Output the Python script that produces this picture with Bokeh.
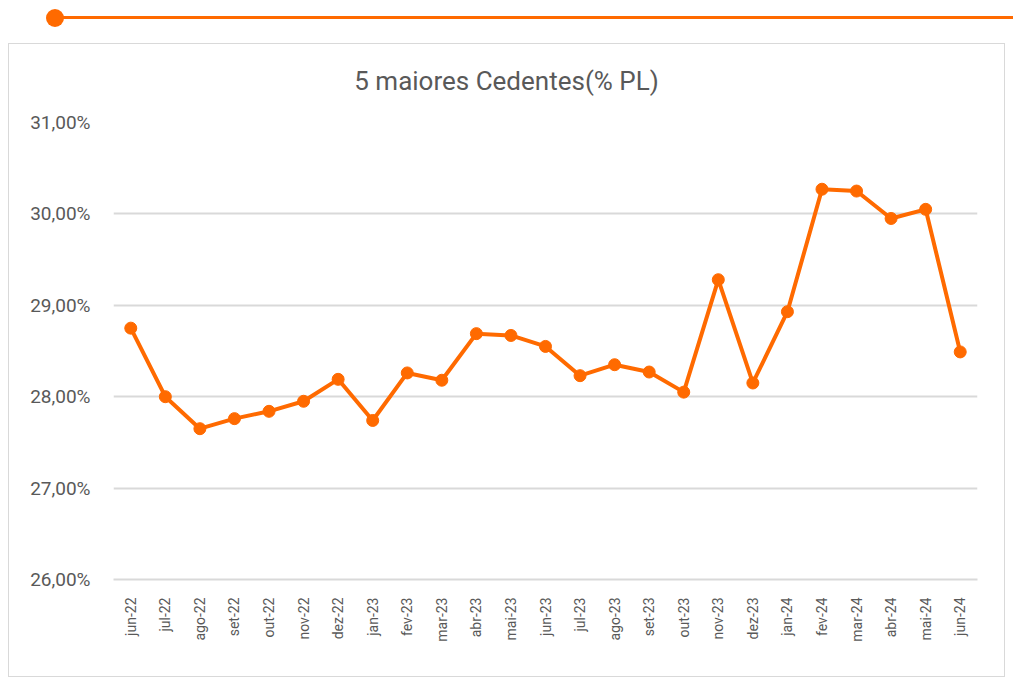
import math
from bokeh.plotting import figure
from bokeh.models import Div, FixedTicker, Range1d
from bokeh.layouts import column
from bokeh.embed import file_html
from bokeh.resources import INLINE

months = ["jun-22", "jul-22", "ago-22", "set-22", "out-22", "nov-22", "dez-22",
          "jan-23", "fev-23", "mar-23", "abr-23", "mai-23", "jun-23", "jul-23",
          "ago-23", "set-23", "out-23", "nov-23", "dez-23", "jan-24", "fev-24",
          "mar-24", "abr-24", "mai-24", "jun-24"]
cedentes_pct = [28.75, 28.00, 27.65, 27.76, 27.84, 27.95, 28.19, 27.74, 28.26,
                28.18, 28.69, 28.67, 28.55, 28.23, 28.35, 28.27, 28.05, 29.28,
                28.15, 28.93, 30.27, 30.25, 29.95, 30.05, 28.49]
y_ticks = [26, 27, 28, 29, 30, 31]
y_tick_labels = ["26,00%", "27,00%", "28,00%", "29,00%", "30,00%", "31,00%"]
chart_title = "5 maiores Cedentes(% PL)"

ORANGE = "#FF6A00"
GRAY_TXT = "#595959"
GRID = "#d9d9d9"
FONT = "Roboto"

deco = Div(
    width=1005, height=35,
    text=(
        '<div style="position:relative;width:1005px;height:35px;">'
        '<div style="position:absolute;left:55px;top:16px;width:958px;height:3px;background:%s;"></div>'
        '<div style="position:absolute;left:46px;top:9px;width:18px;height:18px;border-radius:50%%;background:%s;"></div>'
        '</div>' % (ORANGE, ORANGE)
    ),
    styles={"margin": "0", "padding": "0"},
)
deco.margin = 0

title_div = Div(
    width=995, height=64,
    text=(
        '<div style="width:995px;text-align:center;padding-top:22px;'
        'font-family:Roboto;font-size:26px;line-height:30px;color:%s;">%s</div>'
        % (GRAY_TXT, chart_title)
    ),
    styles={"margin": "0", "padding": "0"},
)
title_div.margin = 0

p = figure(
    x_range=months, y_range=Range1d(26, 31),
    width=995, height=568,
    output_backend="svg", toolbar_location=None,
    min_border_left=104, min_border_right=27, min_border_top=14, min_border_bottom=97,
)
p.margin = 0
p.outline_line_color = None
p.background_fill_color = "white"
p.border_fill_color = "white"

p.line(months, cedentes_pct, line_color=ORANGE, line_width=4)
p.scatter(months, cedentes_pct, size=12, fill_color=ORANGE, line_color=ORANGE)

p.yaxis.ticker = FixedTicker(ticks=y_ticks)
p.yaxis.major_label_overrides = {t: l for t, l in zip(y_ticks, y_tick_labels)}
p.yaxis.axis_line_color = None
p.yaxis.major_tick_line_color = None
p.yaxis.minor_tick_line_color = None
p.yaxis.major_label_standoff = 17
p.yaxis.major_label_text_font = FONT
p.yaxis.major_label_text_font_size = "19px"
p.yaxis.major_label_text_color = GRAY_TXT

p.xaxis.axis_line_color = GRID
p.xaxis.axis_line_width = 2
p.xaxis.major_tick_line_color = None
p.xaxis.minor_tick_line_color = None
p.xaxis.major_label_orientation = math.pi / 2
p.xaxis.major_label_standoff = 12
p.xaxis.major_label_text_font = FONT
p.xaxis.major_label_text_font_size = "14px"
p.xaxis.major_label_text_color = GRAY_TXT

p.xgrid.grid_line_color = None
p.ygrid.grid_line_color = GRID
p.ygrid.grid_line_width = 2
p.ygrid.ticker = FixedTicker(ticks=y_ticks)

box = column(title_div, p, spacing=0)
box.margin = (8, 0, 0, 8)
box.styles = {"border": "1px solid #d9d9d9", "background": "white"}

layout = column(deco, box, spacing=0)
open("out.html", "w").write(file_html(layout, INLINE))
